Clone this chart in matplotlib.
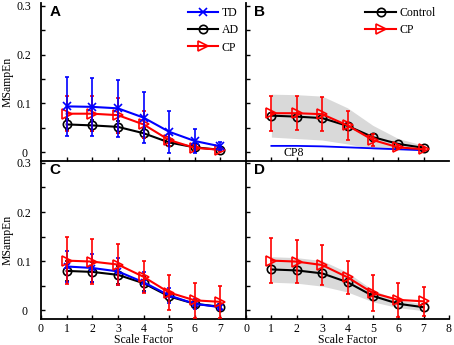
import numpy as np
import matplotlib
matplotlib.use('Agg')
import matplotlib.pyplot as plt
from matplotlib.lines import Line2D

# scale factors
scales = [1, 2, 3, 4, 5, 6, 7]

# panel A
a_td = [0.094, 0.093, 0.090, 0.071, 0.042, 0.023, 0.012]
a_td_sd = [0.060, 0.060, 0.059, 0.052, 0.043, 0.024, 0.008]
a_ad = [0.057, 0.055, 0.052, 0.039, 0.020, 0.010, 0.005]
a_ad_sd = [0.012, 0.012, 0.012, 0.010, 0.007, 0.004, 0.002]
a_cp = [0.079, 0.079, 0.076, 0.057, 0.025, 0.009, 0.005]
a_cp_sd = [0.036, 0.036, 0.036, 0.027, 0.012, 0.005, 0.003]

# panel B
b_ctrl = [0.075, 0.073, 0.070, 0.054, 0.031, 0.017, 0.009]
b_ctrl_sd = [0.044, 0.045, 0.045, 0.037, 0.024, 0.011, 0.005]
b_cp = [0.080, 0.080, 0.078, 0.055, 0.025, 0.010, 0.006]
b_cp_sd = [0.036, 0.035, 0.035, 0.029, 0.012, 0.004, 0.002]
b_cp8 = [0.013, 0.013, 0.012, 0.010, 0.008, 0.006, 0.004]

# panel C
c_ad = [0.080, 0.078, 0.072, 0.055, 0.028, 0.013, 0.007]
c_ad_sd = [0.020, 0.020, 0.018, 0.015, 0.010, 0.006, 0.004]
c_td = [0.089, 0.086, 0.079, 0.057, 0.030, 0.013, 0.006]
c_td_sd = [0.031, 0.029, 0.027, 0.020, 0.015, 0.010, 0.006]
c_cp = [0.101, 0.099, 0.093, 0.068, 0.036, 0.020, 0.017]
c_cp_sd = [0.048, 0.046, 0.042, 0.033, 0.036, 0.035, 0.032]

# panel D
d_ctrl = [0.083, 0.081, 0.075, 0.057, 0.029, 0.013, 0.006]
d_ctrl_sd = [0.026, 0.026, 0.026, 0.020, 0.012, 0.008, 0.007]
d_cp = [0.101, 0.099, 0.092, 0.067, 0.035, 0.021, 0.018]
d_cp_sd = [0.046, 0.044, 0.041, 0.034, 0.036, 0.034, 0.030]

SERIF = 'Liberation Serif'
W, H = 454, 345

fig = plt.figure(figsize=(W / 100, H / 100), dpi=100)

def box(x0, y0, x1, y1):
    return [x0 / W, 1 - y1 / H, (x1 - x0) / W, (y1 - y0) / H]

axA = fig.add_axes(box(41, 3, 246, 161))
axB = fig.add_axes(box(246, 3, 449, 161))
axC = fig.add_axes(box(41, 161, 246, 319))
axD = fig.add_axes(box(246, 161, 449, 319))

def style(ax, ylim, left, bottom):
    ax.set_facecolor('none')
    for s in ['top', 'right']:
        ax.spines[s].set_visible(False)
    for s in ['left', 'bottom']:
        ax.spines[s].set_linewidth(1.3)
    ax.set_ylim(*ylim)
    ax.set_xlim(0, 8)
    ax.set_yticks(np.arange(0, 0.31, 0.05))
    ax.tick_params(direction='in', length=3, width=1, labelsize=8)
    ax.tick_params(axis='x', pad=3)
    ax.tick_params(axis='y', pad=12)
    if left:
        ax.set_yticklabels(['0', '', '0.1', '', '0.2', '', '0.3'], fontfamily=SERIF,
                           fontsize=8.5, ha='center')
        ax.set_ylabel('MSampEn', fontfamily=SERIF, fontsize=8.5)
        ax.yaxis.set_label_coords(-0.135, 0.5)
    else:
        ax.set_yticklabels([])
    if bottom:
        if left:
            ax.set_xticks(range(0, 8))
        else:
            ax.set_xticks(range(0, 9))
        ax.set_xticklabels([str(t) for t in ax.get_xticks()], fontfamily=SERIF, fontsize=8.5)
        ax.set_xlabel('Scale Factor', fontfamily=SERIF, fontsize=8.5, labelpad=-1)
    else:
        ax.set_xticks(range(1, 8))
        ax.set_xticklabels([])

def series(ax, y, sd, color, marker, ms, z=2):
    ax.errorbar(scales, y, yerr=sd, color=color, marker=marker, ms=ms, mfc='none',
                mec=color, mew=1.2, lw=1.5, elinewidth=1.2, capsize=1.5, zorder=z)

def key(color, marker, ms):
    return Line2D([], [], color=color, marker=marker, ms=ms, mfc='none', mew=1.2, lw=1.5)

LEG = dict(loc='upper right', frameon=False, prop={'family': SERIF, 'size': 8.5},
           handlelength=2.6, handletextpad=0.3, labelspacing=0.45, borderaxespad=0.2)

# A
style(axA, (-0.018, 0.306), True, False)
series(axA, a_ad, a_ad_sd, 'black', 'o', 6, 3)
series(axA, a_cp, a_cp_sd, 'red', '>', 7, 4)
series(axA, a_td, a_td_sd, 'blue', 'x', 6, 5)
axA.legend([key('blue', 'x', 6), key('black', 'o', 6), key('red', '>', 7)],
           ['TD', 'AD', 'CP'], bbox_to_anchor=(1.0, 1.02), **LEG)

# B
style(axB, (-0.018, 0.306), False, False)
lo = np.array(b_ctrl) - np.array(b_ctrl_sd)
hi = np.array(b_ctrl) + np.array(b_ctrl_sd)
axB.fill_between(scales, lo, hi, color='#d9d9d9', lw=0, zorder=1)
axB.plot(scales, b_cp8, color='blue', lw=1.3, zorder=2)
axB.text(1.9, -0.002, 'CP8', fontfamily=SERIF, fontsize=8.5, ha='center', va='center')
axB.plot(scales, b_ctrl, color='black', marker='o', ms=6, mfc='none', mew=1.2, lw=1.5, zorder=3)
series(axB, b_cp, b_cp_sd, 'red', '>', 7, 4)
axB.legend([key('black', 'o', 6), key('red', '>', 7)], ['Control', 'CP'],
           bbox_to_anchor=(0.97, 1.02), **LEG)

# C
style(axC, (-0.018, 0.304), True, True)
series(axC, c_ad, c_ad_sd, 'black', 'o', 6, 3)
series(axC, c_td, c_td_sd, 'blue', 'x', 4, 4)
series(axC, c_cp, c_cp_sd, 'red', '>', 7, 5)

# D
style(axD, (-0.018, 0.304), False, True)
lo = np.array(d_ctrl) - np.array(d_ctrl_sd)
hi = np.array(d_ctrl) + np.array(d_ctrl_sd)
axD.fill_between(scales, lo, hi, color='#d9d9d9', lw=0, zorder=1)
axD.plot(scales, d_ctrl, color='black', marker='o', ms=6, mfc='none', mew=1.2, lw=1.5, zorder=3)
series(axD, d_cp, d_cp_sd, 'red', '>', 7, 4)

for ax, letter in [(axA, 'A'), (axB, 'B'), (axC, 'C'), (axD, 'D')]:
    ax.text(0.04, 0.985, letter, transform=ax.transAxes, fontfamily='Liberation Sans',
            fontweight='bold', fontsize=11, ha='left', va='top')

fig.savefig('out.png', dpi=100)
